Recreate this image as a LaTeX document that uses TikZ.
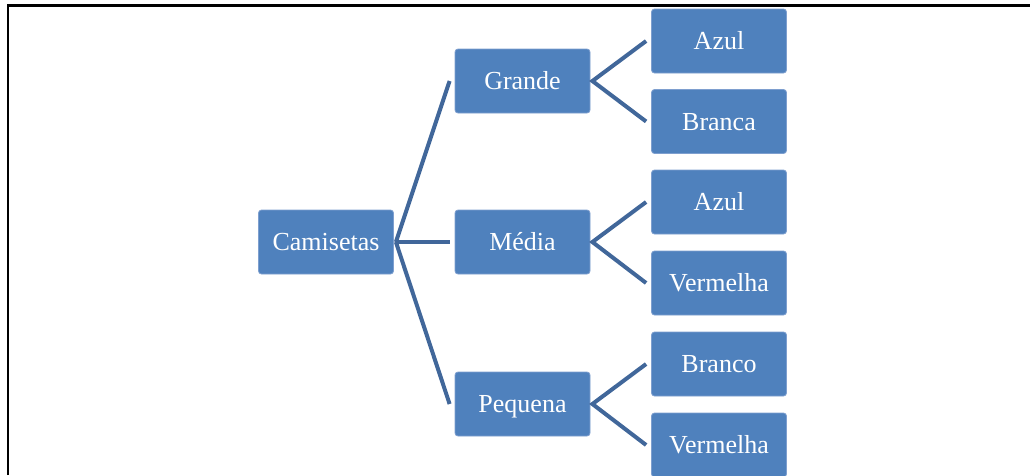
\documentclass[tikz,border=0pt]{standalone}
\usepackage{fontspec}
\setmainfont{Liberation Serif}
\definecolor{boxfill}{HTML}{4F81BD}
\definecolor{boxedge}{HTML}{7E9FCF}
\definecolor{linkcol}{HTML}{41679A}
\begin{document}
\begin{tikzpicture}[x=1pt,y=-1pt,
  item/.style={draw=boxedge, line width=0.8pt, fill=boxfill, rounded corners=3pt,
    minimum width=135pt, minimum height=64pt, inner sep=0pt, text=white,
    text height=17.5pt, text depth=0pt,
    font=\fontsize{26}{30}\selectfont},
  link/.style={draw=linkcol, line width=4pt}]
\useasboundingbox (0,0) rectangle (1030,475);
% page frame
\draw[line width=2.5pt] (8,475) -- (8,5.5) -- (1030,5.5);

% root
\node[item] (cam) at (326,242) {Camisetas};
% sizes
\node[item] (gra) at (522.5,81) {Grande};
\node[item] (med) at (522.5,242) {Média};
\node[item] (peq) at (522.5,404) {Pequena};
% colours
\node[item] (az1) at (719,41) {Azul};
\node[item] (brA) at (719,121.5) {Branca};
\node[item] (az2) at (719,202) {Azul};
\node[item] (ve1) at (719,283) {Vermelha};
\node[item] (brO) at (719,364) {Branco};
\node[item] (ve2) at (719,445) {Vermelha};

% connectors
\foreach \t in {gra,med,peq}
  \draw[link] ([xshift=2pt]cam.east) -- ([xshift=-5pt]\t.west);
\draw[link] ([xshift=-5pt]az1.west) -- ([xshift=2pt]gra.east) -- ([xshift=-5pt]brA.west);
\draw[link] ([xshift=-5pt]az2.west) -- ([xshift=2pt]med.east) -- ([xshift=-5pt]ve1.west);
\draw[link] ([xshift=-5pt]brO.west) -- ([xshift=2pt]peq.east) -- ([xshift=-5pt]ve2.west);
\end{tikzpicture}
\end{document}
